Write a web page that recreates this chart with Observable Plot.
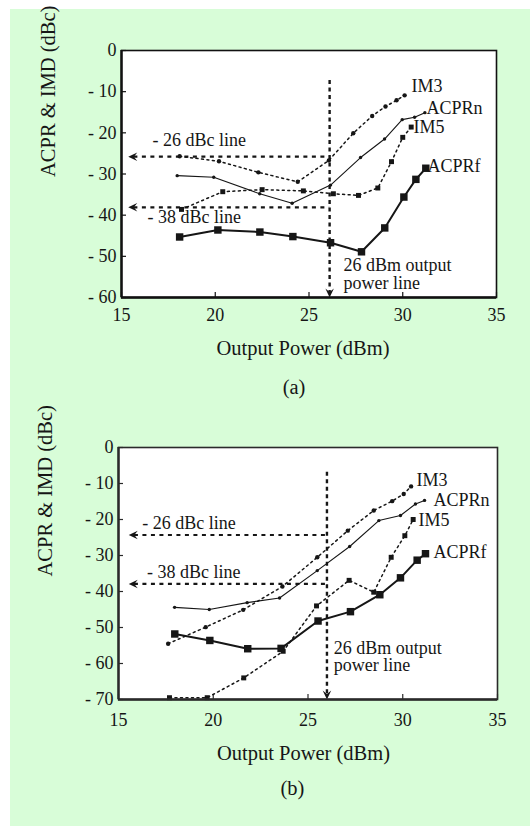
<!DOCTYPE html>
<html><head><meta charset="utf-8">
<script src="https://cdn.jsdelivr.net/npm/d3@7"></script>
<script src="https://cdn.jsdelivr.net/npm/@observablehq/plot@0.6"></script>
<style>
html,body{margin:0;padding:0;background:#fff;width:530px;height:826px;overflow:hidden}
#bg{position:absolute;left:10px;top:9px;width:520px;height:817px;background:#d8fdd8}
#a{position:absolute;left:0;top:0}
#b{position:absolute;left:0;top:400px}
</style></head><body><div id="bg"></div><div id="a"></div><div id="b"></div>
<script>
// ---------- shared axis data ----------
const xTicks = [15, 20, 25, 30, 35];
const yTicksA = [0, -10, -20, -30, -40, -50, -60];
const yTicksB = [0, -10, -20, -30, -40, -50, -60, -70];
const yLabelOf = d => d === 0 ? "0" : "- " + Math.abs(d);
const xTitle = "Output Power (dBm)";
const yTitle = "ACPR & IMD (dBc)";

// ---------- panel (a) series: [Pout dBm, dBc] ----------
const im3A   = [[18.1,-25.7],[20.2,-26.9],[22.3,-29.6],[24.4,-31.9],[26.06,-26.7],[27.36,-20.1],[28.37,-15.9],[29.08,-13.6],[29.67,-12.1],[30.1,-10.9]];
const acprnA = [[17.97,-30.4],[19.92,-30.8],[22.37,-34.8],[24.1,-37.1],[26.15,-32.7],[27.75,-26.0],[29.03,-21.5],[29.97,-16.8],[30.63,-16.2],[31.18,-15.1]];
const im5A   = [[18.2,-38.6],[20.4,-34.3],[22.5,-33.8],[24.7,-34.1],[26.3,-34.8],[27.64,-35.2],[28.67,-33.4],[29.4,-27.0],[30.0,-21.1],[30.45,-18.6]];
const acprfA = [[18.1,-45.3],[20.14,-43.6],[22.38,-44.1],[24.14,-45.2],[26.15,-46.7],[27.8,-48.9],[29.04,-43.1],[30.06,-35.6],[30.7,-31.3],[31.23,-28.6]];
const guideA = {power: 26.1, top: -7.3, dbc: [-25.8, -38.1], tipX: 15.36};
const labelsA = [
  {x: 30.47, y: -8.7,  text: "IM3"},
  {x: 31.27, y: -14.1, text: "ACPRn"},
  {x: 30.57, y: -18.7, text: "IM5"},
  {x: 31.32, y: -28.2, text: "ACPRf"},
  {x: 16.65, y: -21.9, text: "- 26 dBc line"},
  {x: 16.39, y: -40.6, text: "- 38 dBc line"},
  {x: 26.84, y: -54.4, text: "26 dBm output\npower line"}
];

// ---------- panel (b) series ----------
const im3B   = [[17.62,-54.5],[19.6,-49.9],[21.58,-45.1],[23.65,-38.6],[25.49,-30.5],[27.1,-23.1],[28.47,-17.5],[29.44,-14.9],[30.05,-12.9],[30.44,-10.8]];
const acprnB = [[17.96,-44.4],[19.79,-45.0],[21.79,-43.1],[23.5,-41.8],[25.49,-34.2],[27.2,-27.5],[28.74,-20.3],[29.88,-18.9],[30.67,-15.7],[31.15,-14.7]];
const im5B   = [[17.69,-69.5],[19.68,-69.5],[21.61,-64.0],[23.69,-56.6],[25.45,-44.0],[27.17,-36.9],[28.47,-40.2],[29.39,-30.5],[30.11,-24.5],[30.55,-20.0]];
const acprfB = [[17.97,-51.8],[19.82,-53.6],[21.82,-55.9],[23.58,-55.8],[25.53,-48.2],[27.24,-45.6],[28.79,-40.9],[29.88,-36.2],[30.76,-31.3],[31.2,-29.5]];
const guideB = {power: 26.0, top: -6.9, dbc: [-24.3, -37.9], tipX: 15.54};
const labelsB = [
  {x: 30.73, y: -9.2,  text: "IM3"},
  {x: 31.62, y: -14.7, text: "ACPRn"},
  {x: 30.83, y: -20.3, text: "IM5"},
  {x: 31.62, y: -29.2, text: "ACPRf"},
  {x: 16.25, y: -21.1, text: "- 26 dBc line"},
  {x: 16.51, y: -34.7, text: "- 38 dBc line"},
  {x: 26.36, y: -58.2, text: "26 dBm output\npower line"}
];

const INK = "#161616";
const FONT = "'Liberation Serif', 'Times New Roman', serif";

// barbed arrowhead pointing left with its tip at the origin
const arrowHead = {
  draw(ctx) {
    const L = 9, W = 8.5;
    ctx.moveTo(0, 0);
    ctx.lineTo(L, -W / 2);
    ctx.lineTo(0.62 * L, 0);
    ctx.lineTo(L, W / 2);
    ctx.closePath();
  }
};

function panel(cfg) {
  const X = d => d[0], Y = d => d[1];
  const ymin = cfg.yTicks[cfg.yTicks.length - 1];
  const innerW = 530 - cfg.ml - cfg.mr;
  const innerH = cfg.h - cfg.mt - cfg.mb;
  return Plot.plot({
    width: 530, height: cfg.h,
    marginLeft: cfg.ml, marginRight: cfg.mr, marginTop: cfg.mt, marginBottom: cfg.mb,
    x: {domain: [15, 35]},
    y: {domain: [ymin, 0]},
    style: {background: "transparent", fontFamily: FONT, fontSize: "18px", color: INK, overflow: "visible"},
    marks: [
      Plot.frame({fill: "white", stroke: cfg.frame, strokeWidth: 1.6}),
      // inward ticks
      Plot.tickY(cfg.yTicks, {y: d => d, stroke: cfg.frame, strokeWidth: 1.2, insetRight: innerW - 5}),
      Plot.tickX(xTicks, {x: d => d, stroke: cfg.frame, strokeWidth: 1.2, insetTop: innerH - 5}),
      // guide lines
      Plot.ruleY(cfg.guide.dbc, {y: d => d, x1: () => cfg.guide.tipX + 0.3, x2: () => cfg.guide.power, stroke: INK, strokeWidth: 2.2, strokeDasharray: "4,4.5"}),
      Plot.ruleX([cfg.guide.power], {x: d => d, y1: () => cfg.guide.top, y2: () => ymin + 1, stroke: INK, strokeWidth: 2.4, strokeDasharray: "4,3.5"}),
      Plot.dot(cfg.guide.dbc, {x: () => cfg.guide.tipX, y: d => d, symbol: arrowHead, fill: INK, stroke: "none"}),
      Plot.dot([cfg.guide.power], {x: d => d, y: () => ymin, symbol: arrowHead, rotate: -90, fill: INK, stroke: "none"}),
      // series
      Plot.line(cfg.im3, {x: X, y: Y, stroke: INK, strokeWidth: 1.5, strokeDasharray: "2,3.5"}),
      Plot.dot(cfg.im3, {x: X, y: Y, r: 2.2, fill: INK, stroke: "none"}),
      Plot.line(cfg.acprn, {x: X, y: Y, stroke: INK, strokeWidth: 1.1}),
      Plot.dot(cfg.acprn, {x: X, y: Y, r: 1.7, fill: INK, stroke: "none"}),
      Plot.line(cfg.im5, {x: X, y: Y, stroke: INK, strokeWidth: 1.5, strokeDasharray: "2,3.5"}),
      Plot.dot(cfg.im5, {x: X, y: Y, r: 2.8, symbol: "square", fill: INK, stroke: "none"}),
      Plot.line(cfg.acprf, {x: X, y: Y, stroke: INK, strokeWidth: 2}),
      Plot.dot(cfg.acprf, {x: X, y: Y, r: 4.2, symbol: "square", fill: INK, stroke: "none"}),
      // labels
      Plot.text(cfg.labels, {x: "x", y: "y", text: "text", textAnchor: "start", lineAnchor: "middle", lineHeight: cfg.lh, fontSize: 18, fill: INK}),
      // axis lines (left & bottom heavier)
      Plot.ruleX([15], {x: d => d, stroke: cfg.frame, strokeWidth: 2.4}),
      Plot.ruleY([ymin], {y: d => d, stroke: cfg.frame, strokeWidth: 2.6}),
      // axes
      Plot.axisX({ticks: xTicks, tickSize: 0, tickPadding: cfg.xPad, fontSize: 18, label: null, fill: INK}),
      Plot.axisY({ticks: cfg.yTicks, tickSize: 0, tickPadding: 5, fontSize: 18, label: null, fill: INK, tickFormat: yLabelOf}),
      Plot.text([yTitle], {text: d => d, frameAnchor: "left", dx: -73, dy: 3, rotate: -90, fontSize: 20.5, fill: INK}),
      Plot.text([xTitle], {text: d => d, frameAnchor: "bottom", dx: cfg.titleDx, dy: cfg.titleDy, lineAnchor: "middle", fontSize: 20.5, fill: INK}),
      Plot.text([cfg.caption], {text: d => d, frameAnchor: "bottom", dx: cfg.capDx, dy: cfg.capDy, lineAnchor: "middle", fontSize: 20.5, fill: INK})
    ]
  });
}

document.getElementById("a").append(panel({
  h: 400, ml: 121, mr: 34, mt: 50, mb: 103, yTicks: yTicksA, frame: "#111",
  im3: im3A, acprn: acprnA, im5: im5A, acprf: acprfA, guide: guideA, labels: labelsA, lh: 1.0,
  xPad: 11, titleDx: -6, titleDy: 51, caption: "(a)", capDx: -15, capDy: 90
}));
document.getElementById("b").append(panel({
  h: 426, ml: 118, mr: 33, mt: 47, mb: 127, yTicks: yTicksB, frame: "#2a2a2a",
  im3: im3B, acprn: acprnB, im5: im5B, acprf: acprfB, guide: guideB, labels: labelsB, lh: 0.96,
  xPad: 14, titleDx: -4.5, titleDy: 54, caption: "(b)", capDx: -15.5, capDy: 89
}));
</script></body></html>
